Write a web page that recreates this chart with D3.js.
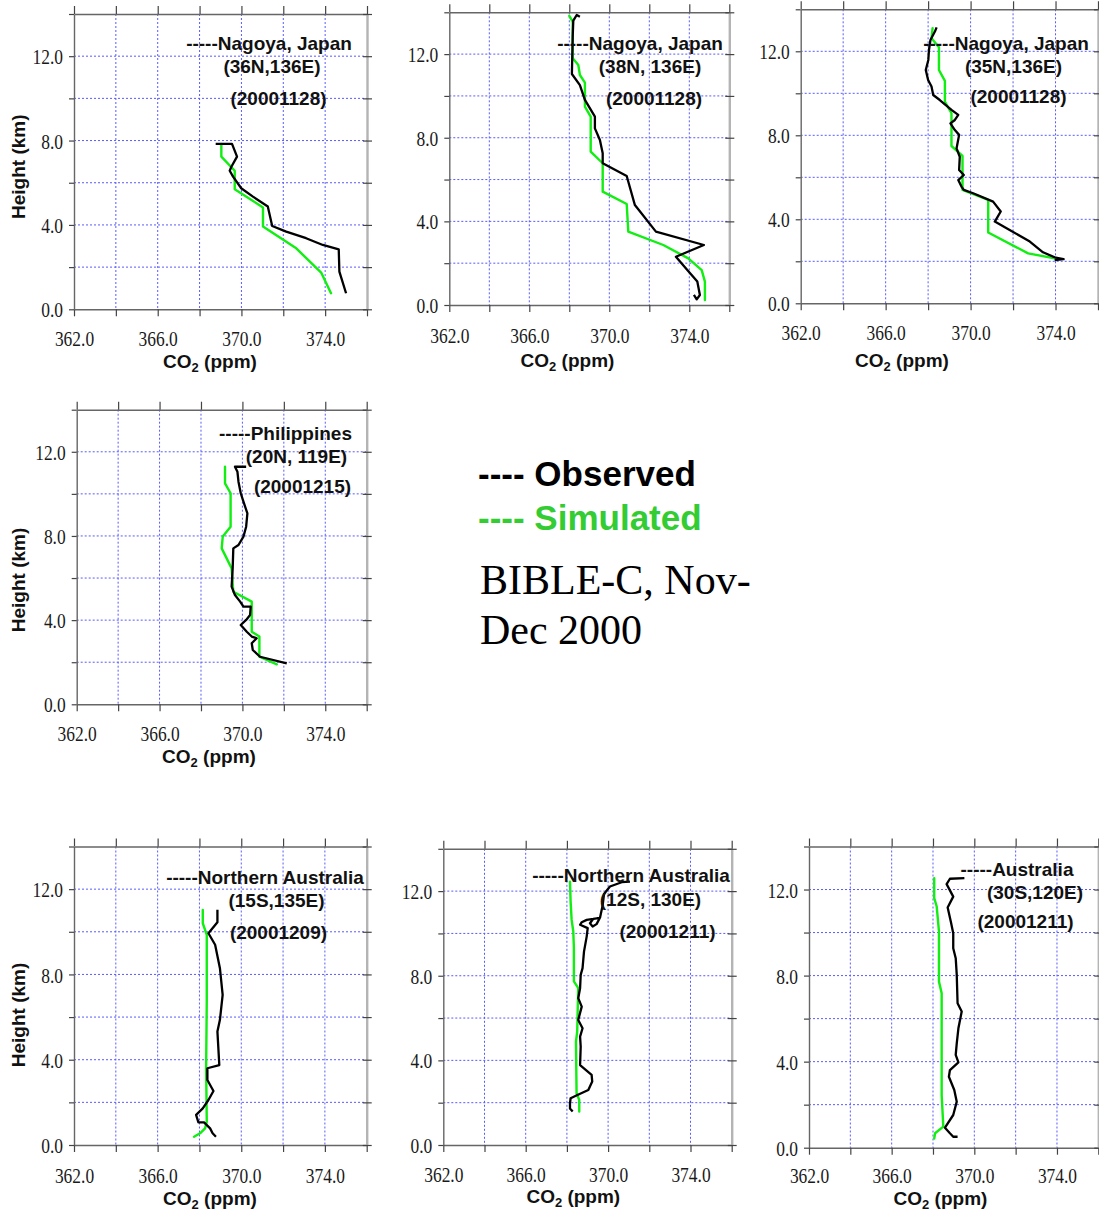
<!DOCTYPE html>
<html>
<head>
<meta charset="utf-8">
<script src="https://cdn.jsdelivr.net/npm/d3@7"></script>
<style>
  html, body { margin: 0; padding: 0; background: #ffffff; }
  svg { display: block; }
</style>
</head>
<body>
<svg id="chart" width="1099" height="1211"></svg>
<script>
// ---- axis values ----------------------------------------------------------
const xTickLabels = [362, 366, 370, 374];
const yTickLabels = [0, 4, 8, 12];
const xGridValues = [362, 364, 366, 368, 370, 372, 374, 376];
const yGridValues = [0, 2, 4, 6, 8, 10, 12, 14];

// ---- profiles: [CO2 ppm, height km] --------------------------------------
const nagoya36Observed = [[368.77,7.84],[369.55,7.84],[369.79,7.24],[369.52,6.76],[369.44,6.57],[369.60,6.29],[369.99,5.74],[370.55,5.34],[371.26,4.87],[371.47,3.95],[372.14,3.68],[373.09,3.37],[373.89,3.05],[374.65,2.84],[374.68,1.79],[375.00,0.76]];
const nagoya36Simulated = [[369.04,7.84],[369.04,7.24],[369.68,6.57],[369.68,5.69],[371.03,4.83],[371.03,3.92],[372.62,2.89],[373.81,1.74],[374.28,0.76]];

const nagoya38Observed = [[368.53,13.79],[368.37,13.87],[368.20,13.60],[368.17,12.84],[368.13,11.05],[368.53,10.52],[368.78,9.81],[369.28,9.01],[369.28,8.45],[369.53,7.89],[369.67,7.26],[369.67,6.78],[370.87,6.17],[371.28,4.78],[372.33,3.51],[374.73,2.87],[373.33,2.31],[373.90,1.67],[374.40,1.12],[374.53,0.48],[374.37,0.27],[374.23,0.48]];
const nagoya38Simulated = [[368.00,13.83],[368.17,13.55],[368.17,11.80],[368.45,11.48],[368.53,11.00],[368.78,10.64],[368.78,9.49],[369.07,9.01],[369.07,7.34],[369.67,6.78],[369.67,5.42],[370.87,4.83],[370.95,3.51],[372.70,2.87],[373.95,2.23],[374.62,1.67],[374.78,1.12],[374.78,0.24]];

const nagoya35Observed = [[368.40,13.14],[368.32,12.94],[368.11,12.54],[368.04,12.06],[368.01,11.59],[367.89,11.11],[368.00,10.63],[368.16,10.32],[368.24,9.92],[368.55,9.68],[369.10,9.21],[369.42,8.97],[369.26,8.73],[369.05,8.57],[369.26,8.25],[369.46,8.02],[369.34,7.38],[369.49,6.98],[369.46,6.35],[369.68,6.11],[369.42,5.87],[369.57,5.56],[369.68,5.40],[370.12,5.24],[371.06,4.84],[371.42,4.37],[371.14,3.89],[371.84,3.49],[372.79,2.94],[373.41,2.43],[374.01,2.17],[374.38,2.10],[373.96,2.06]];
const nagoya35Simulated = [[368.21,13.10],[368.16,12.62],[368.51,12.19],[368.51,11.11],[368.79,10.59],[368.79,9.60],[369.10,9.05],[369.10,7.49],[369.62,7.02],[369.62,5.40],[370.83,4.92],[370.83,3.37],[372.71,2.38],[373.96,2.14]];

const philippinesObserved = [[370.18,11.29],[369.64,11.29],[369.76,11.05],[369.81,10.58],[369.92,10.03],[370.05,9.63],[370.24,9.07],[370.18,8.44],[370.05,7.97],[369.81,7.57],[369.56,7.41],[369.53,6.46],[369.48,5.59],[369.64,5.19],[369.89,4.88],[370.05,4.64],[370.40,4.64],[370.37,4.24],[370.18,4.01],[369.92,3.77],[370.21,3.45],[370.45,3.22],[370.69,3.14],[370.45,2.90],[370.50,2.58],[370.85,2.26],[372.14,1.95]];
const philippinesSimulated = [[369.16,11.29],[369.16,10.50],[369.43,10.03],[369.43,8.44],[369.05,7.97],[369.00,7.41],[369.48,6.46],[369.56,5.35],[370.45,4.88],[370.45,3.45],[370.82,3.22],[370.82,2.26],[371.66,1.90]];

const northAus15Observed = [[368.86,11.03],[368.86,10.45],[368.43,9.93],[368.75,9.39],[368.98,8.29],[369.11,7.04],[368.98,5.87],[368.86,5.32],[368.95,3.75],[368.38,3.60],[368.38,3.05],[368.67,2.53],[368.43,2.11],[368.16,1.72],[367.84,1.41],[367.95,1.06],[368.22,1.06],[368.51,0.78],[368.63,0.55],[368.79,0.39]];
const northAus15Simulated = [[368.16,11.03],[368.16,10.40],[368.35,9.85],[368.35,6.73],[368.32,3.60],[368.35,1.09],[368.27,0.78],[368.03,0.55],[367.74,0.39]];

const northAus12Observed = [[371.06,12.45],[370.66,12.42],[370.09,12.22],[369.80,11.86],[369.74,11.35],[369.61,10.75],[369.44,10.44],[369.25,10.33],[369.12,10.48],[369.28,10.69],[369.53,10.72],[368.96,10.64],[368.72,10.53],[368.64,10.41],[369.01,10.25],[368.96,9.85],[368.83,9.14],[368.76,8.36],[368.67,8.04],[368.64,7.41],[368.55,6.94],[368.72,6.54],[368.55,5.91],[368.76,5.52],[368.64,5.12],[368.67,4.65],[368.64,3.78],[369.20,3.31],[369.23,3.00],[369.04,2.60],[368.51,2.36],[368.18,2.21],[368.15,1.97],[368.15,1.73],[368.28,1.58]];
const northAus12Simulated = [[368.15,12.45],[368.18,11.51],[368.23,10.64],[368.31,10.09],[368.34,9.30],[368.34,7.73],[368.55,7.41],[368.50,5.36],[368.44,4.89],[368.47,2.44],[368.60,2.13],[368.60,1.58]];

const australia30Observed = [[369.52,12.53],[368.82,12.50],[368.66,12.25],[368.98,11.67],[368.71,11.16],[368.87,10.48],[368.98,9.97],[368.98,9.27],[369.10,8.81],[369.15,8.03],[369.19,6.71],[369.39,6.33],[369.23,5.55],[369.15,4.85],[369.10,4.31],[369.23,3.97],[368.82,3.61],[368.77,3.30],[369.03,2.68],[369.15,2.14],[368.98,1.52],[368.58,0.93],[368.82,0.67],[368.98,0.51],[369.19,0.51]];
const australia30Simulated = [[368.06,12.53],[368.06,11.60],[368.18,11.21],[368.29,10.05],[368.29,7.72],[368.42,7.18],[368.42,2.45],[368.50,0.98],[368.10,0.67],[368.06,0.43]];

// ---- site captions -------------------------------------------------------
const siteNames  = ["-----Nagoya, Japan", "-----Nagoya, Japan", "-----Nagoya, Japan", "-----Philippines", "-----Northern Australia", "-----Northern Australia", "-----Australia"];
const siteCoords = ["(36N,136E)", "(38N, 136E)", "(35N,136E)", "(20N, 119E)", "(15S,135E)", "(12S, 130E)", "(30S,120E)"];
const siteDates  = ["(20001128)", "(20001128)", "(20001128)", "(20001215)", "(20001209)", "(20001211)", "(20001211)"];
const observedSeries  = [nagoya36Observed, nagoya38Observed, nagoya35Observed, philippinesObserved, northAus15Observed, northAus12Observed, australia30Observed];
const simulatedSeries = [nagoya36Simulated, nagoya38Simulated, nagoya35Simulated, philippinesSimulated, northAus15Simulated, northAus12Simulated, australia30Simulated];

// ---- layout --------------------------------------------------------------
const frames = [
  { left: 74,    right: 367,    top: 14,    bottom: 309.3,  labelGap: 37 },
  { left: 449.3, right: 729.3,  top: 12.3,  bottom: 305,    labelGap: 37.5 },
  { left: 800.7, right: 1098,   top: 9.3,   bottom: 303.3,  labelGap: 37 },
  { left: 76.7,  right: 366.7,  top: 409.7, bottom: 704.3,  labelGap: 36.5 },
  { left: 74,    right: 366.7,  top: 846.5, bottom: 1145,   labelGap: 37.5 },
  { left: 443.3, right: 731.7,  top: 848.8, bottom: 1145,   labelGap: 36.5 },
  { left: 809,   right: 1098.3, top: 846.5, bottom: 1147.7, labelGap: 35 }
];
// caption centres: [x, baseline] for name, coordinates, date
const captionPlaces = [
  [[269, 50],   [272, 73],    [278.5, 105]],
  [[640, 50],   [650, 73],    [654, 105]],
  [[1006, 50],  [1013.5, 73], [1018.5, 103]],
  [[285.5, 440],[296.5, 463], [302.5, 493]],
  [[265, 884],  [276.5, 907], [278.5, 939]],
  [[631, 882],  [650.5, 906], [667.5, 938]],
  [[1017, 876], [1035, 899],  [1025.5, 928]]
];
const co2TitlePlaces = [[210, 368], [567.5, 366.5], [902, 367], [209, 762.5], [210, 1204.5], [573.3, 1203], [940.5, 1205]];
const heightTitlePlaces = [[24.5, 166.7], null, null, [25.3, 580], [25, 1015], null, null];

const OBS_COLOR = "#000000";
const SIM_COLOR = "#11ee11";
const GRID_COLOR = "#5a5aff";
const SANS = "'Liberation Sans', Arial, sans-serif";
const SERIF = "'Liberation Serif', 'Times New Roman', serif";

const svg = d3.select("#chart");
const fmt = d3.format(".1f");

// squeeze the serif tick numbers to a narrow face
function narrowTicks(sel) {
  sel.selectAll(".tick text").each(function () {
    const t = d3.select(this);
    const s = t.text();
    if (!s) return;
    const digits = s.replace(".", "").length;
    const dots = s.length - digits;
    t.attr("textLength", digits * 8.7 + dots * 4.4).attr("lengthAdjust", "spacingAndGlyphs");
  });
}

frames.forEach((f, i) => {
  const x = d3.scaleLinear().domain([362, 376]).range([f.left, f.right]);
  const y = d3.scaleLinear().domain([0, 14]).range([f.bottom, f.top]);
  const g = svg.append("g").attr("class", "panel");

  // dotted grid
  g.append("g").selectAll("line")
    .data(xGridValues.slice(1, -1)).join("line")
    .attr("x1", d => x(d)).attr("x2", d => x(d))
    .attr("y1", f.top).attr("y2", f.bottom)
    .attr("stroke", GRID_COLOR).attr("stroke-width", 1).attr("stroke-dasharray", "2,2");
  g.append("g").selectAll("line")
    .data(yGridValues.slice(1, -1)).join("line")
    .attr("y1", d => y(d)).attr("y2", d => y(d))
    .attr("x1", f.left).attr("x2", f.right)
    .attr("stroke", GRID_COLOR).attr("stroke-width", 1).attr("stroke-dasharray", "2,2");

  // axes on all four sides
  const bottomAxis = g.append("g")
    .attr("transform", `translate(0,${f.bottom})`)
    .call(d3.axisBottom(x).tickValues(xGridValues).tickSize(7).tickSizeOuter(0)
      .tickFormat(d => xTickLabels.includes(d) ? fmt(d) : ""));
  bottomAxis.selectAll(".tick text").attr("y", f.labelGap).attr("dy", null);

  const leftAxis = g.append("g")
    .attr("transform", `translate(${f.left},0)`)
    .call(d3.axisLeft(y).tickValues(yGridValues).tickSize(5).tickSizeOuter(0)
      .tickFormat(d => yTickLabels.includes(d) ? fmt(d) : ""));
  leftAxis.selectAll(".tick text").attr("x", -11).attr("dy", 7.6);

  const topAxis = g.append("g")
    .attr("transform", `translate(0,${f.top})`)
    .call(d3.axisTop(x).tickValues(xGridValues).tickSize(8).tickSizeOuter(0).tickFormat(""));

  const rightAxis = g.append("g")
    .attr("transform", `translate(${f.right},0)`)
    .call(d3.axisRight(y).tickValues(yGridValues).tickSize(5).tickSizeOuter(0).tickFormat(""));
  rightAxis.selectAll(".tick line").attr("x1", -4);

  [bottomAxis, leftAxis, topAxis, rightAxis].forEach(a => {
    a.attr("font-family", SERIF).attr("font-size", 22).attr("color", "#333");
    a.selectAll(".tick line").attr("stroke", "#444").attr("stroke-width", 1.2);
    a.select(".domain").attr("stroke", "#666").attr("stroke-width", 1.4);
    a.selectAll(".tick text").attr("fill", "#1a1a1a");
  });
  rightAxis.select(".domain").attr("stroke", "#b4b4b4").attr("stroke-width", 2.4);
  narrowTicks(bottomAxis);
  narrowTicks(leftAxis);

  // profiles
  const line = d3.line().x(d => x(d[0])).y(d => y(d[1]));
  g.append("path").datum(simulatedSeries[i])
    .attr("d", line).attr("fill", "none")
    .attr("stroke", SIM_COLOR).attr("stroke-width", 2.4)
    .attr("stroke-linejoin", "round").attr("stroke-linecap", "round");
  g.append("path").datum(observedSeries[i])
    .attr("d", line).attr("fill", "none")
    .attr("stroke", OBS_COLOR).attr("stroke-width", 2.3)
    .attr("stroke-linejoin", "round").attr("stroke-linecap", "butt");

  // site caption
  const texts = [siteNames[i], siteCoords[i], siteDates[i]];
  texts.forEach((t, k) => {
    const [cx, cy] = captionPlaces[i][k];
    g.append("text").attr("x", cx).attr("y", cy)
      .attr("text-anchor", "middle")
      .attr("font-family", SANS).attr("font-weight", "bold").attr("font-size", 19)
      .attr("fill", "#111").text(t);
  });

  // axis titles
  const [tx, ty] = co2TitlePlaces[i];
  const co2 = g.append("text").attr("x", tx).attr("y", ty)
    .attr("text-anchor", "middle")
    .attr("font-family", SANS).attr("font-weight", "bold").attr("font-size", 19).attr("fill", "#111");
  co2.append("tspan").text("CO");
  co2.append("tspan").attr("dy", 4).attr("font-size", 13).text("2");
  co2.append("tspan").attr("dy", -4).text(" (ppm)");

  if (heightTitlePlaces[i]) {
    const [hx, hy] = heightTitlePlaces[i];
    g.append("text")
      .attr("transform", `translate(${hx},${hy}) rotate(-90)`)
      .attr("text-anchor", "middle")
      .attr("font-family", SANS).attr("font-weight", "bold").attr("font-size", 19).attr("fill", "#111")
      .text("Height (km)");
  }
});

// ---- legend and campaign note -------------------------------------------
const legendItems = ["---- Observed", "---- Simulated"];
const legendColors = ["#000000", "#33cc33"];
svg.append("g").selectAll("text").data(legendItems).join("text")
  .attr("x", 478).attr("y", (d, k) => 486 + k * 44)
  .attr("font-family", SANS).attr("font-weight", "bold").attr("font-size", 35)
  .attr("fill", (d, k) => legendColors[k])
  .text(d => d);

const campaignNote = ["BIBLE-C, Nov-", "Dec 2000"];
svg.append("g").selectAll("text").data(campaignNote).join("text")
  .attr("x", 480).attr("y", (d, k) => 594 + k * 50)
  .attr("font-family", SERIF).attr("font-size", 42).attr("fill", "#000")
  .text(d => d);
</script>
</body>
</html>
